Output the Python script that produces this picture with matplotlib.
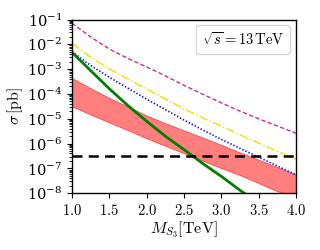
import numpy as np
import matplotlib
matplotlib.use('Agg')
import matplotlib.pyplot as plt
from matplotlib.lines import Line2D
from matplotlib.ticker import FuncFormatter, LogLocator

plt.rcParams['mathtext.fontset'] = 'cm'
plt.rcParams['font.family'] = ['serif']
plt.rcParams['font.serif'] = ['DejaVu Serif']

# masses in TeV
mass = [1.0, 1.25, 1.5, 1.75, 2.0, 2.25, 2.5, 2.75, 3.0, 3.25, 3.5, 3.75, 4.0]

# log10 of cross sections
log_magenta = [-1.15, -1.70, -2.19, -2.57, -2.91, -3.27, -3.65, -4.01, -4.36, -4.69, -5.00, -5.29, -5.58]
log_yellow = [-1.96, -2.52, -2.99, -3.40, -3.80, -4.20, -4.60, -4.96, -5.30, -5.65, -5.98, -6.31, -6.63]
log_blue = [-2.30, -2.85, -3.33, -3.77, -4.21, -4.63, -5.05, -5.45, -5.83, -6.19, -6.55, -6.90, -7.26]
log_band_hi = [-3.37, -3.78, -4.17, -4.52, -4.88, -5.19, -5.48, -5.77, -6.06, -6.37, -6.66, -6.96, -7.26]
log_band_lo = [-4.51, -4.84, -5.16, -5.47, -5.80, -6.10, -6.40, -6.70, -7.00, -7.28, -7.60, -7.93, -8.20]

mass_green = [1.0, 1.25, 1.5, 1.75, 2.0, 2.25, 2.5, 2.75, 3.0, 3.25, 3.5]
log_green = [-2.32, -3.06, -3.79, -4.47, -5.10, -5.70, -6.24, -6.80, -7.32, -7.88, -8.40]

limit = 3.3e-7

fig = plt.figure(figsize=(3.2, 2.5), dpi=100)
ax = fig.add_axes([0.225, 0.227, 0.70, 0.695])

ax.fill_between(mass, 10**np.array(log_band_lo), 10**np.array(log_band_hi),
                facecolor='red', alpha=0.5, edgecolor='none')
ax.plot(mass, 10**np.array(log_band_hi), color='red', lw=0.6, alpha=0.6)
ax.plot(mass, 10**np.array(log_band_lo), color='red', lw=0.6, alpha=0.6)

ax.plot(mass, 10**np.array(log_magenta), color='#CC2A8F', ls='--', lw=1.0, dashes=(3, 1.8))
ax.plot(mass, 10**np.array(log_yellow), color='gold', ls='-.', lw=1.0)
ax.plot(mass, 10**np.array(log_blue), color='blue', ls=':', lw=1.2, dashes=(0.8, 1.2))
ax.plot(mass_green, 10**np.array(log_green), color='green', lw=2.0)
ax.axhline(limit, color='black', ls='--', lw=1.8, dashes=(4, 2.5))

ax.set_yscale('log')
ax.set_xlim(1.0, 4.0)
ax.set_ylim(1e-8, 1e-1)
ax.set_xticks([1.0, 1.5, 2.0, 2.5, 3.0, 3.5, 4.0])
ax.xaxis.set_major_formatter(FuncFormatter(lambda v, p: '$%.1f$' % v))
ax.yaxis.set_major_locator(LogLocator(base=10, numticks=10))
ax.yaxis.set_minor_locator(LogLocator(base=10, subs=np.arange(2, 10), numticks=20))
ax.tick_params(labelsize=10.5)
ax.tick_params(axis='y', which='minor', length=2)

ax.set_xlabel(r'$M_{S_3}[\mathrm{TeV}]$', fontsize=11.5, labelpad=1)
ax.set_ylabel(r'$\sigma\,[\mathrm{pb}]$', fontsize=11.5, labelpad=1)

for s in ax.spines.values():
    s.set_linewidth(1.0)

ax.legend([Line2D([], [], lw=0)], [r'$\sqrt{s} = 13\,\mathrm{TeV}$'],
          loc='upper right', handlelength=0, handletextpad=0, fontsize=10.5,
          borderaxespad=0.4)

fig.savefig('out.png', dpi=100)
